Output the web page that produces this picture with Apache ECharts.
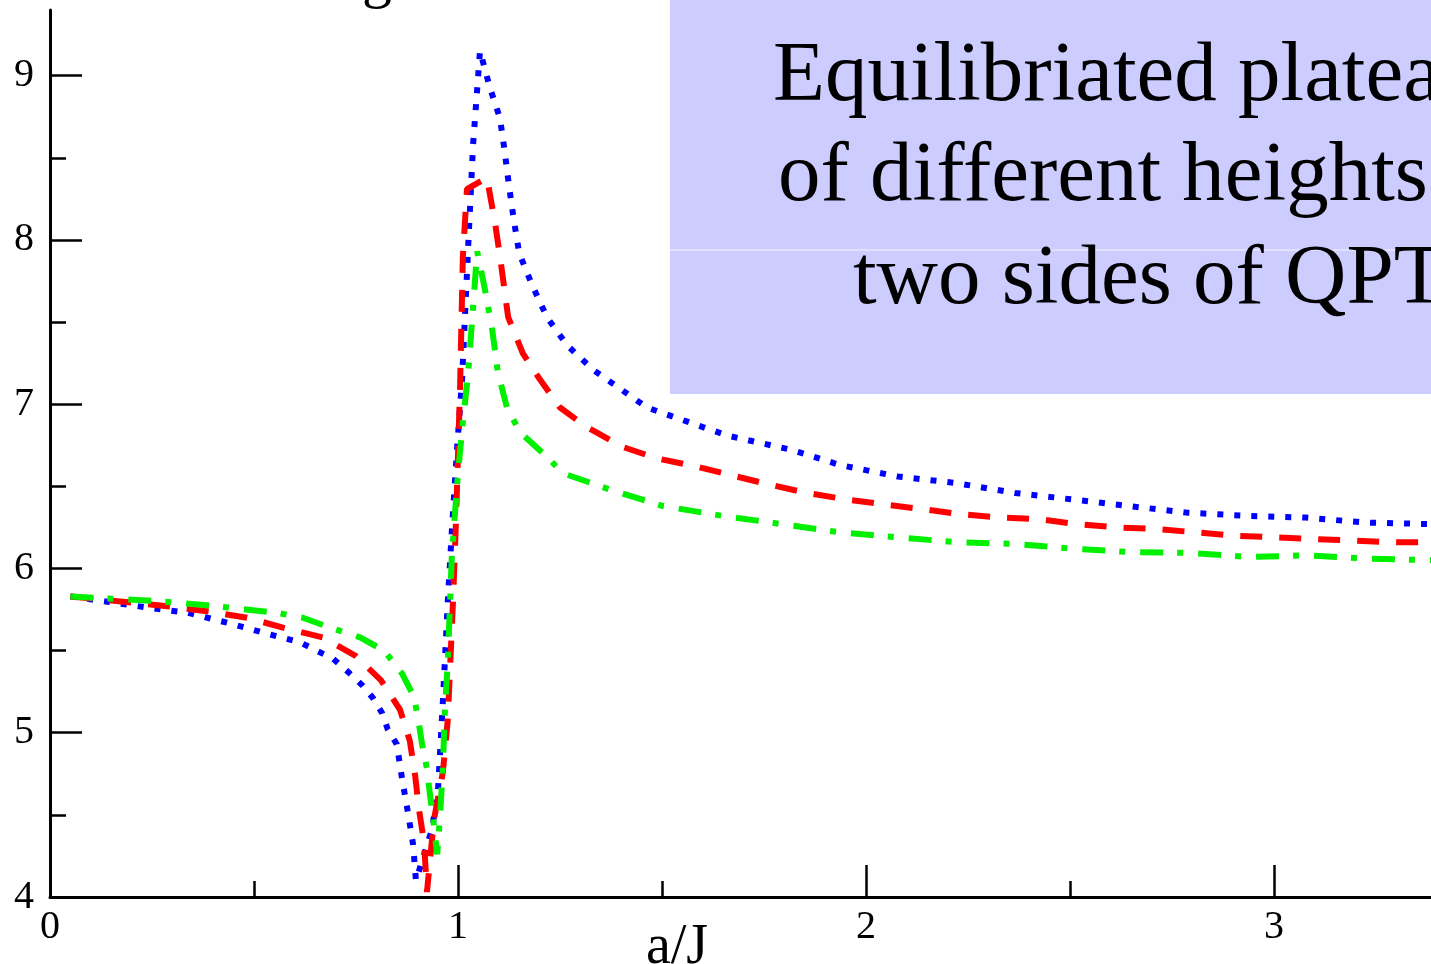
<!DOCTYPE html>
<html>
<head>
<meta charset="utf-8">
<script src="https://cdn.jsdelivr.net/npm/echarts@6/dist/echarts.min.js"></script>
<style>
  html, body { margin: 0; padding: 0; background: #fff; }
  #chart { width: 1431px; height: 964px; }
</style>
</head>
<body>
<div id="chart"></div>
<script>
// dotted blue curve
const blueX = [0.05, 0.245, 0.338, 0.434, 0.522, 0.613, 0.694, 0.735, 0.765, 0.792, 0.814, 0.828, 0.85, 0.863, 0.877, 0.89, 0.897, 0.936, 0.951, 0.963, 0.975, 0.985, 0.998, 1.01, 1.025, 1.037, 1.054, 1.078, 1.103, 1.115, 1.125, 1.137, 1.15, 1.181, 1.218, 1.267, 1.331, 1.463, 1.659, 1.821, 1.936, 2.078, 2.221, 2.365, 2.507, 2.645, 2.787, 2.936, 3.078, 3.221, 3.385];
const blueY = [5.83, 5.76, 5.73, 5.67, 5.61, 5.55, 5.45, 5.36, 5.29, 5.21, 5.12, 5.02, 4.93, 4.72, 4.52, 4.32, 4.10, 4.41, 4.65, 5.19, 5.80, 6.23, 6.74, 7.15, 7.96, 8.58, 9.15, 8.93, 8.74, 8.53, 8.33, 8.12, 7.92, 7.73, 7.53, 7.36, 7.21, 6.98, 6.81, 6.72, 6.63, 6.56, 6.52, 6.46, 6.42, 6.38, 6.34, 6.32, 6.31, 6.28, 6.27];

// dashed red curve
const redX = [0.05, 0.287, 0.385, 0.483, 0.571, 0.669, 0.748, 0.811, 0.858, 0.882, 0.895, 0.904, 0.917, 0.924, 0.941, 0.963, 0.975, 0.988, 0.995, 1.005, 1.012, 1.022, 1.071, 1.091, 1.103, 1.123, 1.159, 1.201, 1.25, 1.316, 1.404, 1.488, 1.586, 1.65, 1.765, 1.855, 1.953, 2.044, 2.142, 2.233, 2.331, 2.426, 2.517, 2.615, 2.713, 2.809, 2.902, 2.998, 3.096, 3.191, 3.284, 3.385];
const redY = [5.83, 5.77, 5.74, 5.70, 5.64, 5.58, 5.47, 5.32, 5.14, 4.95, 4.74, 4.54, 4.33, 4.03, 4.47, 4.76, 5.08, 5.81, 6.28, 7.09, 7.90, 8.31, 8.38, 8.10, 7.90, 7.53, 7.31, 7.15, 6.98, 6.86, 6.74, 6.67, 6.62, 6.58, 6.51, 6.46, 6.42, 6.39, 6.36, 6.33, 6.31, 6.30, 6.27, 6.25, 6.24, 6.22, 6.20, 6.19, 6.18, 6.17, 6.16, 6.16];

// dash-dot green curve
const greenX = [0.05, 0.27, 0.41, 0.556, 0.62, 0.687, 0.76, 0.819, 0.863, 0.892, 0.902, 0.912, 0.924, 0.931, 0.939, 0.949, 0.956, 0.963, 0.968, 0.975, 0.985, 1.0, 1.012, 1.025, 1.037, 1.047, 1.066, 1.083, 1.098, 1.12, 1.152, 1.218, 1.257, 1.373, 1.502, 1.65, 1.794, 1.936, 2.078, 2.221, 2.365, 2.507, 2.65, 2.792, 2.936, 3.083, 3.225, 3.385];
const greenY = [5.83, 5.80, 5.77, 5.73, 5.70, 5.64, 5.58, 5.50, 5.36, 5.22, 5.09, 4.93, 4.78, 4.63, 4.48, 4.26, 4.49, 4.79, 5.14, 5.43, 6.08, 6.58, 6.89, 7.19, 7.59, 7.93, 7.70, 7.47, 7.19, 6.98, 6.83, 6.68, 6.58, 6.48, 6.38, 6.32, 6.27, 6.22, 6.19, 6.16, 6.15, 6.12, 6.10, 6.095, 6.07, 6.08, 6.06, 6.05];

const xMajor = [0, 1, 2, 3];
const xMinor = [0.5, 1.5, 2.5];
const yMajor = [4, 5, 6, 7, 8, 9];
const yMinor = [4.5, 5.5, 6.5, 7.5, 8.5];
const xRange = [0, 3.385];
const yRange = [4, 9.4];

const boxLines = ['Equilibriated plateau', 'of different heights', 'two sides of QPT'];
const xTitle = 'a/J';

const pair = (xs, ys) => xs.map((x, i) => [x, ys[i]]);
const serif = '"Liberation Serif", "DejaVu Serif", serif';

const chart = echarts.init(document.getElementById('chart'));

const baseX = {
  type: 'value', min: xRange[0], max: xRange[1], position: 'bottom',
  splitLine: { show: false }
};
const baseY = {
  type: 'value', min: yRange[0], max: yRange[1], position: 'left',
  splitLine: { show: false }
};

chart.setOption({
  animation: false,
  backgroundColor: '#fff',
  grid: { left: 50, right: 0, top: 10, bottom: 67, containLabel: false },
  xAxis: [
    Object.assign({}, baseX, {
      axisLine: { show: true, onZero: false, lineStyle: { color: '#000', width: 3 } },
      axisTick: { show: true, inside: true, length: 32, customValues: xMajor, lineStyle: { color: '#000', width: 2.5 } },
      axisLabel: { customValues: xMajor, color: '#000', fontFamily: serif, fontSize: 40, margin: 10 }
    }),
    Object.assign({}, baseX, {
      axisLine: { show: false, onZero: false },
      axisTick: { show: true, inside: true, length: 16, customValues: xMinor, lineStyle: { color: '#000', width: 2.5 } },
      axisLabel: { show: false }
    })
  ],
  yAxis: [
    Object.assign({}, baseY, {
      axisLine: { show: true, onZero: false, lineStyle: { color: '#000', width: 3 } },
      axisTick: { show: true, inside: true, length: 32, customValues: yMajor, lineStyle: { color: '#000', width: 2.5 } },
      axisLabel: { customValues: yMajor, color: '#000', fontFamily: serif, fontSize: 40, margin: 16 }
    }),
    Object.assign({}, baseY, {
      axisLine: { show: false, onZero: false },
      axisTick: { show: true, inside: true, length: 16, customValues: yMinor, lineStyle: { color: '#000', width: 2.5 } },
      axisLabel: { show: false }
    })
  ],
  series: [
    {
      type: 'line', data: pair(blueX, blueY), showSymbol: false, symbol: 'none',
      lineStyle: { color: '#0000ff', width: 6, type: [6, 11] }, z: 3
    },
    {
      type: 'line', data: pair(redX, redY), showSymbol: false, symbol: 'none',
      lineStyle: { color: '#ff0000', width: 6, type: [22, 17] }, z: 4
    },
    {
      type: 'line', data: pair(greenX, greenY), showSymbol: false, symbol: 'none',
      lineStyle: { color: '#00f000', width: 6, type: [23, 14, 6, 15] }, z: 5
    }
  ],
  graphic: [
    {
      type: 'rect', left: 670, top: 0, z: 10,
      shape: { width: 761, height: 394 },
      style: { fill: '#ccccff' }
    },
    {
      type: 'line', z: 11,
      shape: { x1: 670, y1: 250, x2: 1431, y2: 250 },
      style: { stroke: '#f4f4ff', lineWidth: 1.2 }
    },
    {
      type: 'text', x: 773, y: 78, z: 12,
      style: { text: boxLines[0], font: '85px ' + serif, fill: '#000', verticalAlign: 'middle' }
    },
    {
      type: 'text', x: 778, y: 178, z: 12,
      style: { text: boxLines[1], font: '85px ' + serif, fill: '#000', verticalAlign: 'middle' }
    },
    {
      type: 'text', x: 853, y: 281, z: 12,
      style: { text: boxLines[2], font: '85px ' + serif, fill: '#000', verticalAlign: 'middle' }
    },
    {
      type: 'text', x: 677, y: 948, z: 12,
      style: { text: xTitle, font: '56px ' + serif, fill: '#000', align: 'center', verticalAlign: 'middle' }
    },
    {
      type: 'text', x: 362, y: -20, z: 12,
      style: { text: 'g', font: '60px ' + serif, fill: '#000', verticalAlign: 'middle' }
    }
  ]
});
</script>
</body>
</html>
